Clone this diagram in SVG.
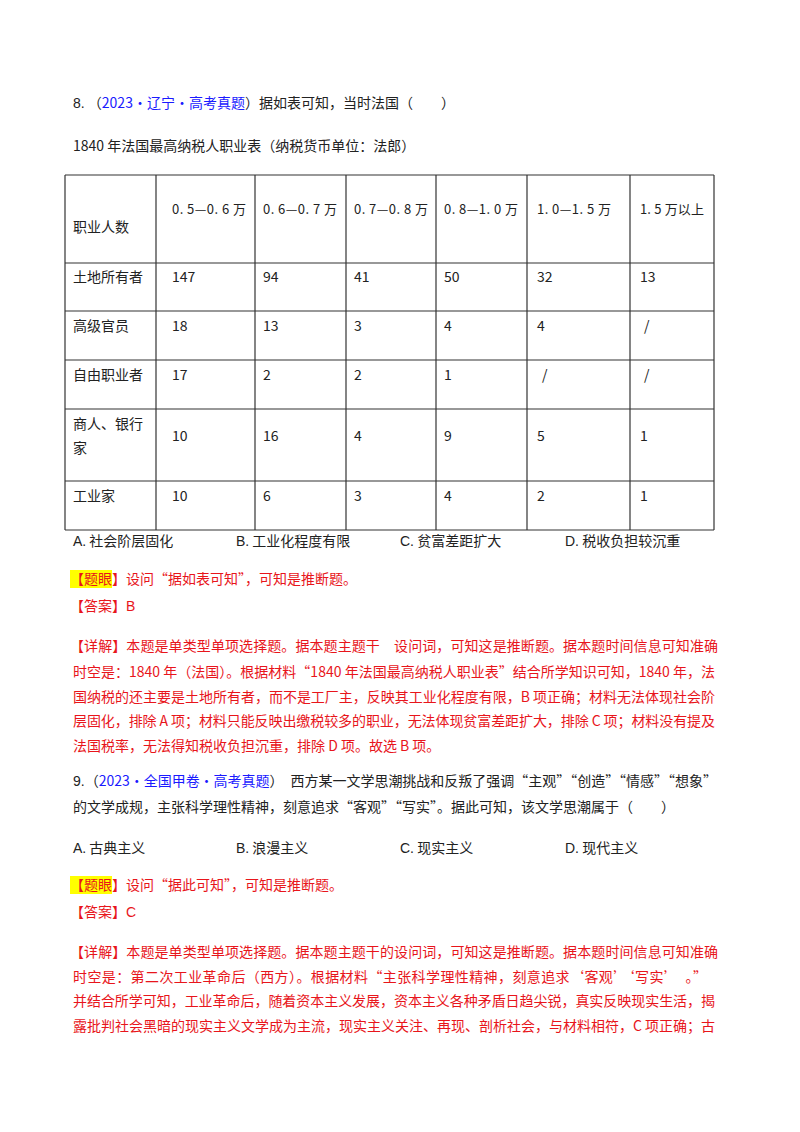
<svg xmlns="http://www.w3.org/2000/svg" width="800" height="1132" viewBox="0 0 800 1132">
<style>
text{font-family:"Noto Sans CJK SC","Liberation Serif",sans-serif;font-size:14px;fill:#222}
.h{font-size:13px}
.r{fill:#e8151b}
.b{fill:#1a1aff}
.s{font-family:"Liberation Sans","Noto Sans CJK SC",sans-serif}
.g line{stroke:#333;stroke-width:1.2}
</style>
<rect width="800" height="1132" fill="#fff"/>
<g id="q8">
<text x="73" y="108"><tspan class="s">8.</tspan>  （<tspan class="b">2023·辽宁·高考真题</tspan>）据如表可知，当时法国（　　）</text>
<text x="73" y="151">1840 年法国最高纳税人职业表（纳税货币单位：法郎）</text>
</g>
<g id="table" class="g">
<line x1="65" y1="175" x2="714" y2="175"/><line x1="65" y1="263" x2="714" y2="263"/>
<line x1="65" y1="311" x2="714" y2="311"/><line x1="65" y1="360" x2="714" y2="360"/>
<line x1="65" y1="409" x2="714" y2="409"/><line x1="65" y1="481" x2="714" y2="481"/>
<line x1="65" y1="530" x2="714" y2="530"/>
<line x1="65" y1="175" x2="65" y2="530"/><line x1="156" y1="175" x2="156" y2="530"/>
<line x1="255" y1="175" x2="255" y2="530"/><line x1="346" y1="175" x2="346" y2="530"/>
<line x1="436" y1="175" x2="436" y2="530"/><line x1="527" y1="175" x2="527" y2="530"/>
<line x1="630" y1="175" x2="630" y2="530"/><line x1="714" y1="175" x2="714" y2="530"/>
<text x="73" y="232">职业人数</text>
<text class="h" x="172" y="214" textLength="74">0. 5—0. 6 万</text><text class="h" x="263" y="214" textLength="74">0. 6—0. 7 万</text>
<text class="h" x="354" y="214" textLength="74">0. 7—0. 8 万</text><text class="h" x="444" y="214" textLength="74">0. 8—1. 0 万</text>
<text class="h" x="537" y="214" textLength="74">1. 0—1. 5 万</text><text class="h" x="640" y="214" textLength="64">1. 5 万以上</text>
<text x="73" y="282">土地所有者</text><text x="172" y="282">147</text><text x="263" y="282">94</text><text x="354" y="282">41</text><text x="444" y="282">50</text><text x="537" y="282">32</text><text x="640" y="282">13</text>
<text x="73" y="331">高级官员</text><text x="172" y="331">18</text><text x="263" y="331">13</text><text x="354" y="331">3</text><text x="444" y="331">4</text><text x="537" y="331">4</text><text x="644" y="331">/</text>
<text x="73" y="380">自由职业者</text><text x="172" y="380">17</text><text x="263" y="380">2</text><text x="354" y="380">2</text><text x="444" y="380">1</text><text x="542" y="380">/</text><text x="644" y="380">/</text>
<text x="73" y="429">商人、银行</text><text x="73" y="453">家</text><text x="172" y="441">10</text><text x="263" y="441">16</text><text x="354" y="441">4</text><text x="444" y="441">9</text><text x="537" y="441">5</text><text x="640" y="441">1</text>
<text x="73" y="501">工业家</text><text x="172" y="501">10</text><text x="263" y="501">6</text><text x="354" y="501">3</text><text x="444" y="501">4</text><text x="537" y="501">2</text><text x="640" y="501">1</text>
</g>
<g id="a8">
<text x="73" y="546"><tspan class="s">A.</tspan> 社会阶层固化</text>
<text x="236" y="546"><tspan class="s">B.</tspan> 工业化程度有限</text>
<text x="400" y="546"><tspan class="s">C.</tspan> 贫富差距扩大</text>
<text x="565" y="546"><tspan class="s">D.</tspan> 税收负担较沉重</text>
<rect x="70" y="570" width="42" height="18" fill="#ffff00"/>
<text x="70" y="584" class="r">【题眼】设问“据如表可知”，可知是推断题。</text>
<text x="70" y="611" class="r">【答案】<tspan class="s">B</tspan></text>
<text x="70" y="651" class="r" textLength="648" lengthAdjust="spacing">【详解】本题是单类型单项选择题。据本题主题干　设问词，可知这是推断题。据本题时间信息可知准确</text>
<text x="73" y="677" class="r" textLength="642" lengthAdjust="spacing">时空是：1840 年（法国）。根据材料“1840 年法国最高纳税人职业表”结合所学知识可知，1840 年，法</text>
<text x="73" y="702" class="r" textLength="642" lengthAdjust="spacing">国纳税的还主要是土地所有者，而不是工厂主，反映其工业化程度有限，B 项正确；材料无法体现社会阶</text>
<text x="73" y="726" class="r" textLength="642" lengthAdjust="spacing">层固化，排除 A 项；材料只能反映出缴税较多的职业，无法体现贫富差距扩大，排除 C 项；材料没有提及</text>
<text x="73" y="751" class="r">法国税率，无法得知税收负担沉重，排除 D 项。故选 B 项。</text>
</g>
<g id="q9">
<text x="73" y="786" textLength="644" lengthAdjust="spacing"><tspan class="s">9.</tspan>（<tspan class="b">2023·全国甲卷·高考真题</tspan>）　西方某一文学思潮挑战和反叛了强调“主观”“创造”“情感”“想象”</text>
<text x="73" y="812">的文学成规，主张科学理性精神，刻意追求“客观”“写实”。据此可知，该文学思潮属于（　　）</text>
<text x="73" y="853"><tspan class="s">A.</tspan> 古典主义</text>
<text x="236" y="853"><tspan class="s">B.</tspan> 浪漫主义</text>
<text x="400" y="853"><tspan class="s">C.</tspan> 现实主义</text>
<text x="565" y="853"><tspan class="s">D.</tspan> 现代主义</text>
<rect x="70" y="876" width="42" height="18" fill="#ffff00"/>
<text x="70" y="890" class="r">【题眼】设问“据此可知”，可知是推断题。</text>
<text x="70" y="917" class="r">【答案】<tspan class="s">C</tspan></text>
<text x="70" y="957" class="r" textLength="648" lengthAdjust="spacing">【详解】本题是单类型单项选择题。据本题主题干的设问词，可知这是推断题。据本题时间信息可知准确</text>
<text x="73" y="982" class="r" textLength="634" lengthAdjust="spacing">时空是：第二次工业革命后（西方）。根据材料“主张科学理性精神，刻意追求‘客观’‘写实’　。”</text>
<text x="73" y="1006" class="r" textLength="642" lengthAdjust="spacing">并结合所学可知，工业革命后，随着资本主义发展，资本主义各种矛盾日趋尖锐，真实反映现实生活，揭</text>
<text x="73" y="1031" class="r" textLength="642" lengthAdjust="spacing">露批判社会黑暗的现实主义文学成为主流，现实主义关注、再现、剖析社会，与材料相符，C 项正确；古</text>
</g>
</svg>
